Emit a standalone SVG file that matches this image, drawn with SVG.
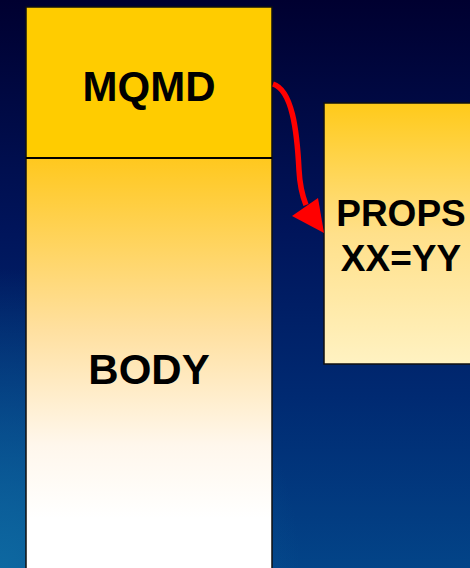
<svg xmlns="http://www.w3.org/2000/svg" width="470" height="568" viewBox="0 0 470 568">
<defs>
<linearGradient id="bg" x1="0" y1="0" x2="0" y2="1">
<stop offset="0" stop-color="#000030"/>
<stop offset="0.4" stop-color="#00145a"/>
<stop offset="0.7" stop-color="#002a72"/>
<stop offset="1" stop-color="#034488"/>
</linearGradient>
<radialGradient id="glow" cx="0" cy="568" r="300" gradientUnits="userSpaceOnUse">
<stop offset="0" stop-color="#0e6aa2" stop-opacity="0.95"/>
<stop offset="1" stop-color="#0e6aa2" stop-opacity="0"/>
</radialGradient>
<linearGradient id="body" x1="0" y1="158" x2="0" y2="568" gradientUnits="userSpaceOnUse">
<stop offset="0" stop-color="#ffc81e"/>
<stop offset="0.42" stop-color="#ffe0a0"/>
<stop offset="0.7" stop-color="#fff7ec"/>
<stop offset="0.88" stop-color="#ffffff"/>
</linearGradient>
<linearGradient id="props" x1="0" y1="103" x2="0" y2="364" gradientUnits="userSpaceOnUse">
<stop offset="0" stop-color="#ffca1a"/>
<stop offset="0.5" stop-color="#ffe08a"/>
<stop offset="1" stop-color="#fff2c2"/>
</linearGradient>
</defs>
<style>
.box{stroke:#111;stroke-width:1.5}
.lbl{font-family:"Liberation Sans",Arial,sans-serif;font-weight:bold;fill:#000;text-anchor:middle}
</style>
<rect width="470" height="568" fill="url(#bg)"/>
<rect width="470" height="568" fill="url(#glow)"/>
<g id="body-node">
<rect class="box" x="26" y="158" width="246" height="420" fill="url(#body)"/>
<text class="lbl" x="149" y="384" font-size="42">BODY</text>
</g>
<g id="mqmd-node">
<rect class="box" x="26" y="7" width="246" height="151" fill="#ffcc00"/>
<line x1="26" y1="158" x2="272" y2="158" stroke="#000" stroke-width="2"/>
<text class="lbl" x="149" y="101" font-size="42">MQMD</text>
</g>
<g id="props-node">
<rect class="box" x="324" y="103" width="160" height="261" fill="url(#props)"/>
<text class="lbl" x="401" y="226" font-size="37">PROPS</text>
<text class="lbl" x="401" y="271" font-size="37">XX=YY</text>
</g>
<g id="connectors">
<path d="M273,84 C292,90 297,130 299,170 Q300,190 306,205" fill="none" stroke="#ff0000" stroke-width="5.5"/>
<polygon points="292,216 318,198 324,233" fill="#ff0000"/>
</g>
</svg>
